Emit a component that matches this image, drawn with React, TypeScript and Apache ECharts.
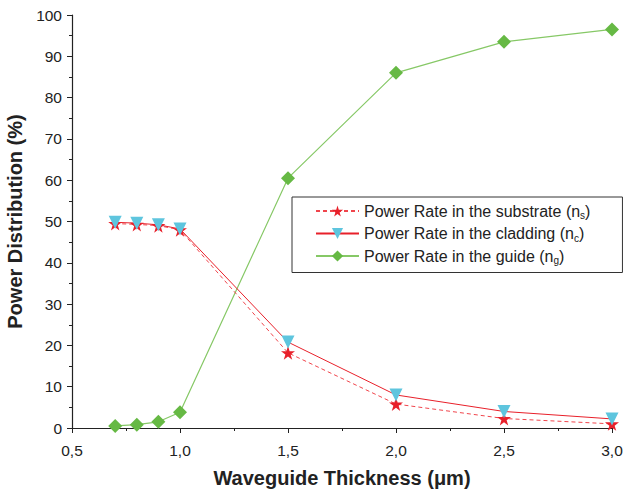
import React, { useEffect, useRef } from "react";
import * as echarts from "echarts";

const thickness = [0.7, 0.8, 0.9, 1.0, 1.5, 2.0, 2.5, 3.0];
const substrate = [49.5, 49.3, 49.0, 48.0, 18.2, 5.8, 2.3, 1.0];
const cladding = [49.8, 49.6, 49.2, 48.2, 20.8, 8.0, 4.0, 2.2];
const guide = [0.5, 0.8, 1.5, 3.8, 60.5, 86.0, 93.5, 96.5];
const seriesNames = ["substrate", "cladding", "guide"];
const seriesSubs = ["s", "c", "g"];

const STAR = "path://M50,0 L61,35 L98,35 L68,57 L79,91 L50,70 L21,91 L32,57 L2,35 L39,35 Z";

const pair = (ys: number[]) => thickness.map((x, i) => [x, ys[i]]);

export default function App() {
  const ref = useRef<HTMLDivElement>(null);
  useEffect(() => {
    const chart = echarts.init(ref.current!, null, { renderer: "svg" });
    const font = "Liberation Sans, Arial, sans-serif";
    const names = seriesNames.map((n, i) => `Power Rate in the ${n} (n{sub|${seriesSubs[i]}})`);
    chart.setOption({
      animation: false,
      backgroundColor: "#fff",
      textStyle: { fontFamily: font },
      grid: { left: 72, right: 17, top: 15, bottom: 65, containLabel: false, outerBoundsMode: "none" },
      legend: {
        left: 292,
        top: 197,
        orient: "vertical",
        borderColor: "#333",
        borderWidth: 1,
        padding: [6, 32, 7, 23],
        itemGap: 5,
        itemWidth: 43,
        itemHeight: 14,
        data: names,
        textStyle: {
          fontSize: 16,
          color: "#222",
          fontFamily: font,
          rich: {
            sub: { fontSize: 10, color: "#222", fontFamily: font, padding: [9, 0, 0, 0] },
          },
        },
      },
      xAxis: {
        type: "value",
        min: 0.5,
        max: 3.0,
        interval: 0.5,
        name: "Waveguide Thickness (\u03bcm)",
        nameLocation: "middle",
        nameGap: 40,
        nameTextStyle: { fontSize: 20, fontWeight: "bold", color: "#222", fontFamily: font },
        axisLine: { lineStyle: { color: "#222", width: 1.2 } },
        axisTick: { length: 5, lineStyle: { color: "#222" } },
        minorTick: { show: true, splitNumber: 2, length: 3, lineStyle: { color: "#222" } },
        splitLine: { show: false },
        axisLabel: {
          fontSize: 15.5,
          color: "#222",
          margin: 14,
          formatter: (v: number) => v.toFixed(1).replace(".", ","),
        },
      },
      yAxis: {
        type: "value",
        min: 0,
        max: 100,
        interval: 10,
        name: "Power Distribution (%)",
        nameLocation: "middle",
        nameGap: 44,
        nameTextStyle: { fontSize: 20, fontWeight: "bold", color: "#222", fontFamily: font },
        axisLine: { show: true, lineStyle: { color: "#222", width: 1.2 } },
        axisTick: { show: true, length: 5, lineStyle: { color: "#222" } },
        minorTick: { show: true, splitNumber: 2, length: 3, lineStyle: { color: "#222" } },
        splitLine: { show: false },
        axisLabel: { fontSize: 15.5, color: "#222", margin: 10 },
      },
      series: [
        {
          name: names[0],
          type: "line",
          data: pair(substrate),
          symbol: STAR,
          symbolSize: 14,
          z: 3,
          lineStyle: { color: "#f0454c", width: 1, type: [4, 3] },
          itemStyle: { color: "#e8202a" },
        },
        {
          name: names[1],
          type: "line",
          data: pair(cladding),
          symbol: "triangle",
          symbolRotate: 180,
          symbolSize: 13,
          z: 4,
          lineStyle: { color: "#e8202a", width: 1 },
          itemStyle: { color: "#5ec5de" },
        },
        {
          name: names[2],
          type: "line",
          data: pair(guide),
          symbol: "diamond",
          symbolSize: 14,
          z: 2,
          lineStyle: { color: "#86c866", width: 1.2 },
          itemStyle: { color: "#66b944" },
        },
      ],
    });
    return () => chart.dispose();
  }, []);
  return <div ref={ref} style={{ width: 629, height: 493, position: "absolute", left: 0, top: 0 }} />;
}
